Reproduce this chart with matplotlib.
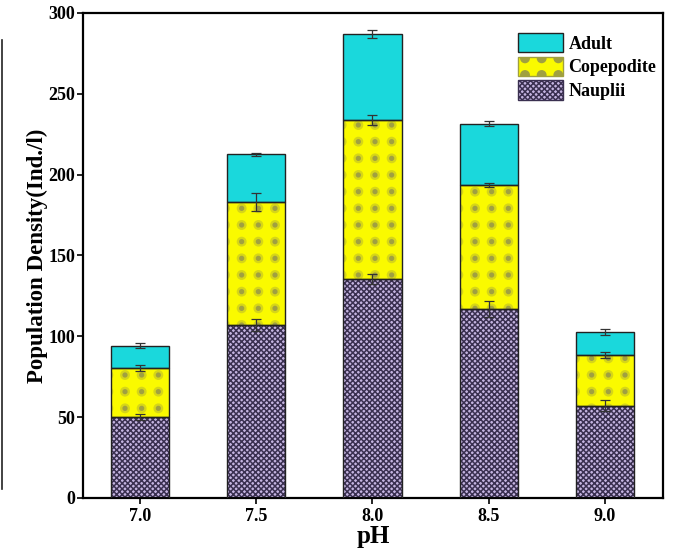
import matplotlib
matplotlib.use("Agg")
import matplotlib.pyplot as plt
import matplotlib.hatch as mhatch
from matplotlib.path import Path
from matplotlib.patches import Patch
from matplotlib.lines import Line2D
import numpy as np

ph_labels = ["7.0", "7.5", "8.0", "8.5", "9.0"]
ph_values = [7.0, 7.5, 8.0, 8.5, 9.0]
nauplii = [50.1, 107.0, 135.5, 117.0, 57.0]
copepodite = [30.3, 76.0, 98.3, 76.6, 31.5]
adult = [13.8, 29.5, 53.0, 37.8, 14.3]
nauplii_err = [2.0, 4.0, 3.0, 5.0, 3.5]
copepodite_err = [2.0, 5.5, 3.0, 1.5, 2.0]
adult_err = [1.5, 1.0, 2.5, 1.5, 2.0]


# square-grid filled-dot hatch (replaces the staggered '.' pattern)
class GridDots(mhatch.HatchPatternBase):
    def __init__(self, hatch, density):
        c = hatch.count('.')
        circ = Path.unit_circle()
        self.shape_vertices = circ.vertices
        self.shape_codes = circ.codes
        if c == 0:
            self.num_rows = 0
            self.num_vertices = 0
        else:
            self.num_rows = 6
            self.size = 0.22 if c == 1 else 0.50
            self.num_vertices = self.num_rows ** 2 * len(circ.vertices)

    def set_vertices_and_codes(self, vertices, codes):
        nv = len(self.shape_vertices)
        off = 1.0 / self.num_rows
        sv = self.shape_vertices * off * self.size / 2.0
        k = 0
        for i in range(self.num_rows):
            for j in range(self.num_rows):
                vertices[k:k + nv] = sv + [(j + 0.5) * off, (i + 0.5) * off]
                codes[k:k + nv] = self.shape_codes
                k += nv


mhatch._hatch_types = [GridDots if t is mhatch.SmallFilledCircles else t
                       for t in mhatch._hatch_types]

plt.rcParams['font.family'] = ['Liberation Serif', 'DejaVu Serif']
plt.rcParams['font.weight'] = 'bold'
plt.rcParams['hatch.linewidth'] = 1.1

fig = plt.figure(figsize=(6.74, 5.53), dpi=100)
ax = fig.add_axes([0.123, 0.0995, 0.861, 0.877])

x = np.array(ph_values)
w = 0.25
n = np.array(nauplii)
c = np.array(copepodite)
a = np.array(adult)

naup_face = "#c4b4e0"
naup_hatch = "#3a3050"
cope_face = "#fafa00"
cope_dot_outer = "#d6d618"
cope_dot_inner = "#a0a040"
adult_face = "#1ad8dc"
edge = "#222222"

# Nauplii
ax.bar(x, n, w, color=naup_face, edgecolor=naup_hatch, hatch="xxxxxx", linewidth=0, zorder=2)
ax.bar(x, n, w, fill=False, edgecolor=edge, linewidth=1.0, zorder=3)
# Copepodite
ax.bar(x, c, w, bottom=n, color=cope_face, edgecolor=cope_dot_outer, hatch="..", linewidth=0, zorder=2)
ax.bar(x, c, w, bottom=n, fill=False, edgecolor=cope_dot_inner, hatch=".", linewidth=0, zorder=2)
ax.bar(x, c, w, bottom=n, fill=False, edgecolor=edge, linewidth=1.0, zorder=3)
# Adult
ax.bar(x, a, w, bottom=n + c, color=adult_face, edgecolor=edge, linewidth=1.0, zorder=2)

ekw = dict(fmt="none", ecolor="#333333", elinewidth=0.9, capsize=3.5, capthick=0.9, zorder=4)
ax.errorbar(x, n, yerr=nauplii_err, **ekw)
ax.errorbar(x, n + c, yerr=copepodite_err, **ekw)
ax.errorbar(x, n + c + a, yerr=adult_err, **ekw)

ax.set_xlim(6.755, 9.25)
ax.set_ylim(0, 300)
ax.set_xticks(x)
ax.set_xticklabels(ph_labels)
ax.set_yticks([0, 50, 100, 150, 200, 250, 300])
ax.tick_params(axis='both', labelsize=13, width=1.2, length=4, direction='out')
ax.tick_params(axis='y', pad=1.5)
ax.tick_params(axis='x', pad=3)
for lbl in ax.get_xticklabels() + ax.get_yticklabels():
    lbl.set_fontweight('bold')
for s in ax.spines.values():
    s.set_linewidth(1.6)

ax.set_xlabel("pH", fontsize=18, fontweight='bold', labelpad=0)
ax.set_ylabel("Population Density(Ind./l)", fontsize=16.5, fontweight='bold', labelpad=0)

handles = [
    Patch(facecolor=adult_face, edgecolor=edge, linewidth=1.0, label="Adult"),
    Patch(facecolor=cope_face, edgecolor=cope_dot_inner, hatch="..", linewidth=1.0, label="Copepodite"),
    Patch(facecolor=naup_face, edgecolor=naup_hatch, hatch="xxxxxx", linewidth=1.0, label="Nauplii"),
]
leg = ax.legend(handles=handles, loc="upper right", bbox_to_anchor=(0.988, 0.959),
                frameon=False, fontsize=13, handlelength=2.5, handleheight=1.28,
                labelspacing=0.22, handletextpad=0.28, borderaxespad=0.0, borderpad=0.0)
for t in leg.get_texts():
    t.set_fontweight('bold')

fig.add_artist(Line2D([0.003, 0.003], [0.115, 0.928], color=edge, linewidth=1.2,
                      transform=fig.transFigure))

fig.savefig("out.png", dpi=100)
